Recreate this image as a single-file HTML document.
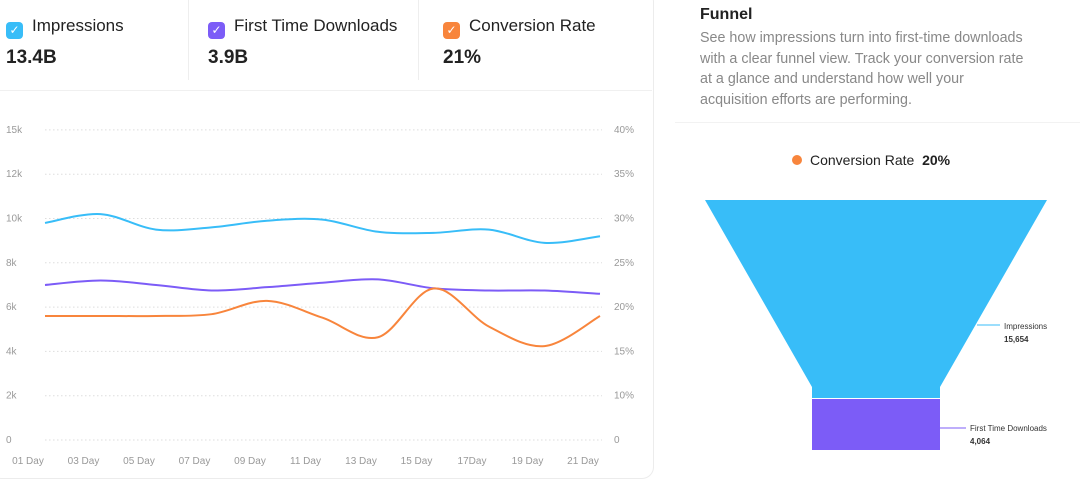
<!DOCTYPE html>
<html><head><meta charset="utf-8"><style>
body{margin:0;width:1080px;height:479px;background:#fff;font-family:"Liberation Sans",sans-serif;overflow:hidden;position:relative}
.card{position:absolute;left:-10px;top:-10px;width:662px;height:487px;border:1px solid #ececec;border-radius:12px}
.kpi{position:absolute;top:0;height:80px}
.kpi .lbl{position:absolute;top:16px;left:0;font-size:17px;color:#222;white-space:nowrap}
.kpi .cb{display:inline-block;width:17px;height:17px;border-radius:4px;vertical-align:-3px;margin-right:9px;color:#fff;font-size:12px;text-align:center;line-height:17px}
.kpi .val{position:absolute;top:47px;left:0;font-size:19px;font-weight:bold;color:#222}
.vd{position:absolute;top:0;width:1px;height:80px;background:#eee}
svg text{font-family:"Liberation Sans",sans-serif}
</style></head><body>
<div class="card"></div>
<div class="kpi" style="left:6px"><div class="lbl"><span class="cb" style="background:#38bdf8">✓</span>Impressions</div><div class="val">13.4B</div></div>
<div class="vd" style="left:188px"></div>
<div class="kpi" style="left:208px"><div class="lbl"><span class="cb" style="background:#7c5cf7">✓</span>First Time Downloads</div><div class="val">3.9B</div></div>
<div class="vd" style="left:418px"></div>
<div class="kpi" style="left:443px"><div class="lbl"><span class="cb" style="background:#f8853c">✓</span>Conversion Rate</div><div class="val">21%</div></div>
<div style="position:absolute;left:0;top:90px;width:652px;height:1px;background:#f0f0f0"></div>

<div style="position:absolute;left:700px;top:6px;font-size:16px;font-weight:bold;color:#222">Funnel</div>
<div style="position:absolute;left:700px;top:28px;white-space:nowrap;font-size:14.3px;line-height:20.5px;color:#888">See how impressions turn into first-time downloads<br>with a clear funnel view. Track your conversion rate<br>at a glance and understand how well your<br>acquisition efforts are performing.</div>
<div style="position:absolute;left:675px;top:122px;width:405px;height:1px;background:#f2f2f2"></div>
<div style="position:absolute;left:792px;top:152px;font-size:14px;color:#222;white-space:nowrap"><span style="display:inline-block;width:10px;height:10px;border-radius:50%;background:#f8853c;margin-right:8px"></span>Conversion Rate &nbsp;<b>20%</b></div>

<svg id="fun" width="1080" height="479" style="position:absolute;left:0;top:0">
<polygon points="705,200 1047,200 940,387 940,398 812,398 812,387" fill="#38bdf8"/>
<rect x="812" y="399" width="128" height="51" fill="#7c5cf7"/>
<line x1="977" y1="325" x2="1000" y2="325" stroke="#38bdf8" stroke-width="1"/>
<text x="1004" y="329" font-size="8" fill="#333">Impressions</text>
<text x="1004" y="342" font-size="8" font-weight="bold" fill="#333">15,654</text>
<line x1="940" y1="428" x2="966" y2="428" stroke="#7c5cf7" stroke-width="1"/>
<text x="970" y="431" font-size="8" fill="#333">First Time Downloads</text>
<text x="970" y="444" font-size="8" font-weight="bold" fill="#333">4,064</text>
</svg>

<svg id="ch" width="652" height="479" style="position:absolute;left:0;top:0"></svg>
<script>
const categories=["01 Day","03 Day","05 Day","07 Day","09 Day","11 Day","13 Day","15 Day","17Day","19 Day","21 Day"];
const impressions=[9.8,10.2,9.5,9.6,9.9,9.95,9.4,9.35,9.5,8.9,9.2];
const downloads=[7.0,7.2,7.0,6.75,6.9,7.1,7.25,6.85,6.75,6.75,6.6];
const conversion=[19,19,19,19.2,20.7,18.8,16.6,22.1,17.8,15.6,19.0];
const leftTicks=[0,2,4,6,8,10,12,15];
const leftTickLabels=["0","2k","4k","6k","8k","10k","12k","15k"];
const rightTicks=[0,10,15,20,25,30,35,40];
const rightTickLabels=["0","10%","15%","20%","25%","30%","35%","40%"];
const NS="http://www.w3.org/2000/svg",svg=document.getElementById('ch');
const y0=440,step=44.3;
function piece(ticks,v){for(let i=0;i<ticks.length-1;i++){if(v<=ticks[i+1]||i==ticks.length-2){return y0-(i+(v-ticks[i])/(ticks[i+1]-ticks[i]))*step;}}}
const yL=v=>piece(leftTicks,v),yR=v=>piece(rightTicks,v);
const xS=i=>45+i*55.5;
function mk(t,a){const e=document.createElementNS(NS,t);for(const k in a)e.setAttribute(k,a[k]);svg.appendChild(e);return e;}
leftTicks.forEach((t,i)=>{const y=y0-i*step;
const g=mk('line',{x1:45,x2:602,y1:y,y2:y,stroke:'#ddd','stroke-dasharray':'1.5 2.5'});


const l=mk('text',{x:6,y:y+3,'font-size':10,fill:'#999'});l.textContent=leftTickLabels[i];


const r=mk('text',{x:614,y:y+3,'font-size':10,fill:'#999'});r.textContent=rightTickLabels[i];

});
categories.forEach((c,i)=>{const t=mk('text',{x:xS(i)-17,y:464,'font-size':10,fill:'#999','text-anchor':'middle'});t.textContent=c;

});
function path(pts){let d='M'+pts[0][0]+','+pts[0][1];for(let i=0;i<pts.length-1;i++){const p0=pts[i-1]||pts[i],p1=pts[i],p2=pts[i+1],p3=pts[i+2]||p2;
d+=' C'+(p1[0]+(p2[0]-p0[0])/6)+','+(p1[1]+(p2[1]-p0[1])/6)+' '+(p2[0]-(p3[0]-p1[0])/6)+','+(p2[1]-(p3[1]-p1[1])/6)+' '+p2[0]+','+p2[1];}return d;}
function series(vals,ys,col,name){const p=mk('path',{d:path(vals.map((v,i)=>[xS(i),ys(v)])),fill:'none',stroke:col,'stroke-width':2});

}
series(impressions,yL,'#38bdf8','impressions-line');
series(downloads,yL,'#7c5cf7','downloads-line');
series(conversion,yR,'#f8853c','conversion-line');
</script>
</body></html>
